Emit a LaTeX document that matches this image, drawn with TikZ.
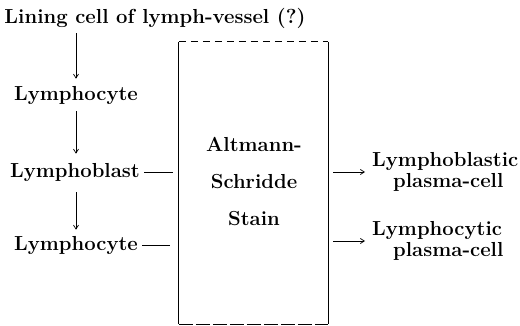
\documentclass[tikz,border=0pt]{standalone}
\usetikzlibrary{arrows.meta}
\begin{document}
\begin{tikzpicture}[x=1pt,y=-1pt,
  txt/.style={inner sep=0pt,font=\fontsize{20.3}{21}\selectfont\bfseries},
  arr/.style={line width=0.7pt,-{Straight Barb[length=4pt,width=5pt]}},
  dashline/.style={line width=0.7pt},
  side/.style={line width=0.9pt}]
\useasboundingbox (0,0) rectangle (520,326);
\node[txt] (lining) at (155,18) {Lining cell of lymph-vessel (?)};
\node[txt] (ly1) at (76,95) {Lymphocyte};
\node[txt] (lb) at (75,172) {Lymphoblast};
\node[txt] (ly2) at (76,245) {Lymphocyte};
\node[minimum width=149pt,minimum height=282pt,inner sep=0pt] (box) at (253.5,183) {};
\draw[side] (box.north west) -- (box.south west);
\draw[side] (box.north east) -- (box.south east);
\draw[line width=0.6pt,dash pattern=on 7pt off 5pt] (box.north west) -- (box.north east);
\draw[line width=0.7pt,dash pattern=on 14pt off 3pt] (box.south west) -- (box.south east);
\node[txt,align=center,font=\fontsize{20.3}{37}\selectfont\bfseries] (stain) at (254,182) {Altmann-\\Schridde\\Stain};
\node[txt,align=left,anchor=west] (lbp) at (372,172) {Lymphoblastic\\\hspace*{21pt}plasma-cell};
\node[txt,align=left,anchor=west] (lcp) at (372,241) {Lymphocytic\\\hspace*{21pt}plasma-cell};
\draw[arr,shorten <=5pt,shorten >=7pt] (lining.south -| ly1.north) -- (ly1.north);
\draw[arr,shorten <=7pt,shorten >=9pt] (ly1.south) -- (lb.north -| ly1.south);
\draw[arr,shorten <=11pt,shorten >=6pt] (lb.south -| ly1.south) -- (ly2.north);
\draw[dashline,shorten <=4pt,shorten >=6pt] (lb.east) -- (lb.east -| box.west);
\draw[dashline,shorten <=4pt,shorten >=9pt] (ly2.east) -- (ly2.east -| box.west);
\draw[arr,shorten <=5pt,shorten >=7pt] (box.east |- lbp.west) -- (lbp.west);
\draw[arr,shorten <=5pt,shorten >=7pt] (box.east |- lcp.west) -- (lcp.west);
\end{tikzpicture}
\end{document}
